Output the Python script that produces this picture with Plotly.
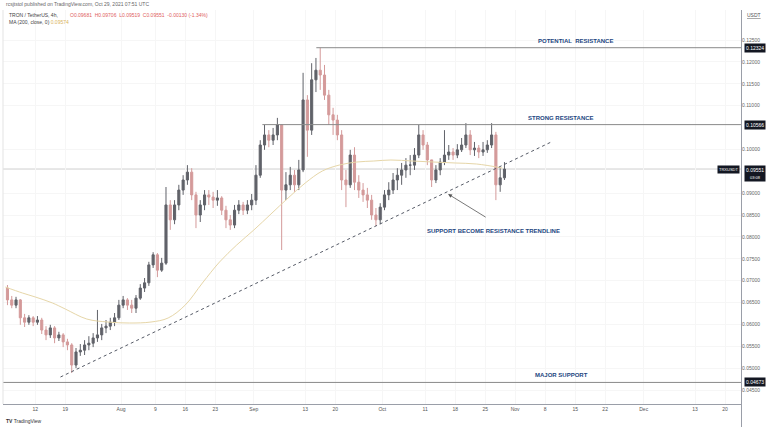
import pandas as pd
import plotly.graph_objects as go

# ---------------- data ----------------
first_day = "2021-07-05 12:00"
first_open = 0.0683
close = [
    0.0656, 0.0644, 0.0656, 0.0615, 0.0605, 0.0615, 0.0605, 0.0610, 0.0587, 0.0576,
    0.0592, 0.0569, 0.0576, 0.0560, 0.0553, 0.0507, 0.0537, 0.0541, 0.0553, 0.0557,
    0.0569, 0.0576, 0.0592, 0.0596, 0.0605, 0.0615, 0.0644, 0.0656, 0.0644, 0.0637,
    0.0660, 0.0683, 0.0695, 0.0736, 0.0759, 0.0724, 0.0740, 0.0873, 0.0839, 0.0873,
    0.0907, 0.0930, 0.0948, 0.0896, 0.0850, 0.0873, 0.0896, 0.0891, 0.0884, 0.0889,
    0.0861, 0.0839, 0.0827, 0.0861, 0.0873, 0.0861, 0.0873, 0.0884, 0.0941, 0.1010,
    0.1033, 0.1021, 0.1033, 0.1056, 0.0907, 0.0919, 0.0941, 0.0919, 0.0953, 0.1113,
    0.1044, 0.1159, 0.1181, 0.1170, 0.1124, 0.1079, 0.1067, 0.1033, 0.0930, 0.0919,
    0.0987, 0.0925, 0.0907, 0.0896, 0.0884, 0.0850, 0.0839, 0.0868, 0.0896, 0.0907,
    0.0930, 0.0941, 0.0953, 0.0964, 0.0964, 0.0987, 0.1033, 0.1010, 0.0976, 0.0930,
    0.0953, 0.0971, 0.0987, 0.0994, 0.0987, 0.0999, 0.1010, 0.1033, 0.0999, 0.1003,
    0.0994, 0.0999, 0.1010, 0.1033, 0.0919, 0.0935, 0.0955,
]
high = [
    0.0690, 0.0665, 0.0663, 0.0658, 0.0624, 0.0621, 0.0619, 0.0619, 0.0615, 0.0596,
    0.0599, 0.0596, 0.0583, 0.0580, 0.0567, 0.0557, 0.0546, 0.0555, 0.0564, 0.0573,
    0.0580, 0.0633, 0.0601, 0.0610, 0.0615, 0.0626, 0.0656, 0.0665, 0.0660, 0.0656,
    0.0667, 0.0692, 0.0706, 0.0743, 0.0765, 0.0763, 0.0752, 0.0914, 0.0884, 0.0884,
    0.0919, 0.0941, 0.0964, 0.0957, 0.0903, 0.0884, 0.0907, 0.0907, 0.0903, 0.0907,
    0.0893, 0.0871, 0.0850, 0.0873, 0.0884, 0.0880, 0.0884, 0.0898, 0.0964, 0.1021,
    0.1056, 0.1044, 0.1049, 0.1072, 0.1056, 0.0948, 0.0960, 0.0953, 0.0976, 0.1175,
    0.1124, 0.1197, 0.1209, 0.1232, 0.1193, 0.1136, 0.1095, 0.1079, 0.1044, 0.0953,
    0.0999, 0.1005, 0.0941, 0.0923, 0.0912, 0.0896, 0.0866, 0.0877, 0.0907, 0.0925,
    0.0946, 0.0957, 0.0969, 0.0980, 0.0987, 0.1003, 0.1056, 0.1044, 0.1017, 0.0976,
    0.0964, 0.0980, 0.1044, 0.1010, 0.1003, 0.1012, 0.1026, 0.1060, 0.1044, 0.1017,
    0.1010, 0.1017, 0.1021, 0.1060, 0.1040, 0.0957, 0.0971,
]
low = [
    0.0644, 0.0637, 0.0637, 0.0599, 0.0594, 0.0599, 0.0596, 0.0599, 0.0578, 0.0564,
    0.0569, 0.0557, 0.0562, 0.0548, 0.0541, 0.0489, 0.0500, 0.0528, 0.0530, 0.0541,
    0.0548, 0.0560, 0.0564, 0.0580, 0.0587, 0.0596, 0.0610, 0.0637, 0.0633, 0.0626,
    0.0626, 0.0656, 0.0674, 0.0688, 0.0729, 0.0708, 0.0720, 0.0736, 0.0816, 0.0829,
    0.0861, 0.0896, 0.0919, 0.0884, 0.0820, 0.0834, 0.0861, 0.0873, 0.0866, 0.0871,
    0.0850, 0.0820, 0.0816, 0.0820, 0.0852, 0.0850, 0.0852, 0.0861, 0.0873, 0.0935,
    0.0999, 0.1005, 0.1010, 0.1021, 0.0770, 0.0884, 0.0907, 0.0903, 0.0907, 0.0948,
    0.0983, 0.1033, 0.1131, 0.1136, 0.1113, 0.1056, 0.1033, 0.1021, 0.0907, 0.0868,
    0.0912, 0.0907, 0.0889, 0.0880, 0.0866, 0.0839, 0.0825, 0.0829, 0.0861, 0.0884,
    0.0898, 0.0907, 0.0919, 0.0935, 0.0941, 0.0953, 0.0980, 0.0999, 0.0964, 0.0914,
    0.0923, 0.0941, 0.0964, 0.0976, 0.0976, 0.0980, 0.0994, 0.1003, 0.0987, 0.0985,
    0.0980, 0.0985, 0.0992, 0.1003, 0.0884, 0.0903, 0.0930,
]

ma_dates = ["2021-07-05", "2021-07-09", "2021-07-12", "2021-07-16", "2021-07-19",
            "2021-07-24", "2021-07-29", "2021-08-03", "2021-08-08", "2021-08-12",
            "2021-08-16", "2021-08-20", "2021-08-24", "2021-08-28", "2021-09-01",
            "2021-09-05", "2021-09-09", "2021-09-13", "2021-09-17", "2021-09-21",
            "2021-09-25", "2021-09-29", "2021-10-03", "2021-10-08", "2021-10-13",
            "2021-10-18", "2021-10-23", "2021-10-29"]
ma_values = [0.06854, 0.06717, 0.06626, 0.06489, 0.06351, 0.06123, 0.06054, 0.06031,
             0.06054, 0.06146, 0.06443, 0.06946, 0.07426, 0.07814, 0.08157, 0.08523,
             0.08889, 0.09231, 0.09506, 0.09643, 0.09711, 0.09734, 0.09757, 0.09734,
             0.09711, 0.09689, 0.09666, 0.09574]

trend_dates = ["2021-07-17 21:00", "2021-11-09 10:00"]
trend_values = [0.04797, 0.10169]

potential_res = 0.12324
potential_start = "2021-09-15 14:00"
strong_res = 0.10566
strong_start = "2021-09-03 00:00"
major_support = 0.04673
last_price = 0.09551

tick_dates = ["2021-07-12", "2021-07-19", "2021-08-01", "2021-08-09", "2021-08-16",
              "2021-08-23", "2021-09-01", "2021-09-13", "2021-09-20", "2021-10-01",
              "2021-10-11", "2021-10-18", "2021-10-25", "2021-11-01", "2021-11-08",
              "2021-11-15", "2021-11-22", "2021-12-01", "2021-12-13", "2021-12-20"]
tick_text = ["12", "19", "Aug", "9", "16", "23", "Sep", "13", "20", "Oct",
             "11", "18", "25", "Nov", "8", "15", "22", "Dec", "13", "20"]
# price-axis labels (0.10500 and 0.09500 are hidden behind price tags in the reference)
y_ticks = [0.045, 0.050, 0.055, 0.060, 0.065, 0.070, 0.075, 0.080, 0.085, 0.090,
           0.100, 0.110, 0.115, 0.120, 0.125]

x_range = ["2021-07-04 11:00", "2021-12-23 17:00"]
y_range = [0.04180, 0.13186]

# ---------------- styling ----------------
W, H = 768, 427
UP = "#606269"
DN = "#d49a9a"
MA_C = "#e6d6a8"
NAVY = "#23467f"
FONT = "Liberation Sans"
TAG = "#131722"

dates = pd.date_range(first_day, periods=len(close), freq="D")
opens = [first_open] + close[:-1]

fig = go.Figure()
fig.add_trace(go.Scatter(x=ma_dates, y=ma_values, mode="lines",
                         line=dict(color=MA_C, width=1, shape="spline"),
                         hoverinfo="skip", showlegend=False))
fig.add_trace(go.Candlestick(
    x=dates, open=opens, high=high, low=low, close=close,
    increasing=dict(line=dict(color=UP, width=1), fillcolor=UP),
    decreasing=dict(line=dict(color=DN, width=1), fillcolor=DN),
    whiskerwidth=0, showlegend=False, hoverinfo="skip"))
fig.add_trace(go.Scatter(x=trend_dates, y=trend_values, mode="lines",
                         line=dict(color="#555a66", width=1, dash="3px,3px"),
                         hoverinfo="skip", showlegend=False))

shapes = [
    dict(type="line", xref="x", yref="y", x0=x_range[0], x1=x_range[1],
         y0=last_price, y1=last_price, line=dict(color="#cfcfcf", width=1), layer="below"),
    dict(type="line", xref="x", yref="y", x0=potential_start, x1=x_range[1],
         y0=potential_res, y1=potential_res, line=dict(color="#8a8a8a", width=1)),
    dict(type="line", xref="x", yref="y", x0=strong_start, x1=x_range[1],
         y0=strong_res, y1=strong_res, line=dict(color="#8a8a8a", width=1)),
    dict(type="line", xref="x", yref="y", x0=x_range[0], x1=x_range[1],
         y0=major_support, y1=major_support, line=dict(color="#8a8a8a", width=1)),
    dict(type="line", xref="paper", yref="paper", x0=741.5 / W, x1=741.5 / W,
         y0=0, y1=1 - 10 / H, line=dict(color="#9a9ea8", width=1)),
    dict(type="line", xref="paper", yref="paper", x0=3 / W, x1=3 / W,
         y0=1 - 404 / H, y1=1 - 10 / H, line=dict(color="#e3e3e3", width=1)),
]

ann = []
def text(x, y, s, size=5, color="#555", xanchor="left", yanchor="middle", **kw):
    ann.append(dict(x=x, y=y, xref="paper", yref="paper", text=s, showarrow=False,
                    xanchor=xanchor, yanchor=yanchor,
                    font=dict(family=FONT, size=size, color=color), **kw))

text(4 / W, 1 - 4 / H, "rcsjtstol published on TradingView.com, Oct 29, 2021 07:51 UTC", size=5, color="#666")
text(7 / W, 1 - 14.5 / H, "TRON / TetherUS, 4h,", size=5, color="#444")
text(68 / W, 1 - 14.5 / H, "O0.09681  H0.09706  L0.09519  C0.09551  -0.00130 (-1.34%)", size=5, color="#e06060")
text(7 / W, 1 - 22.5 / H,
     "MA (200, close, 0) <span style='color:#d9b45a'>0.09574</span>", size=5, color="#444")
text(754 / W, 1 - 15 / H, "<u>USDT</u>", size=5, color="#555", xanchor="center")
text(4 / W, 1 - 421 / H, "<b>TV</b> TradingView", size=5, color="#333")

for val, lab in [(potential_res, "0.12324"), (strong_res, "0.10566"), (major_support, "0.04673")]:
    ann.append(dict(x=755 / W, y=val, xref="paper", yref="y", text=lab, showarrow=False,
                    xanchor="center", yanchor="middle", bgcolor=TAG, borderpad=1,
                    font=dict(family=FONT, size=5, color="white")))
ann.append(dict(x=755 / W, y=last_price, xref="paper", yref="y",
                text="0.09551<br><span style='font-size:4px'>03:08</span>",
                showarrow=False, xanchor="center", yanchor="top", yshift=4,
                bgcolor=TAG, borderpad=1, font=dict(family=FONT, size=5, color="white")))
ann.append(dict(x=740 / W, y=last_price, xref="paper", yref="y", text="TRXUSDT",
                showarrow=False, xanchor="right", yanchor="middle", bgcolor=TAG, borderpad=1,
                font=dict(family=FONT, size=4, color="white")))

def label(xd, yv, s, yanchor="bottom", yshift=2):
    ann.append(dict(x=xd, y=yv, xref="x", yref="y", text="<b>" + s + "</b>", showarrow=False,
                    xanchor="center", yanchor=yanchor, yshift=yshift,
                    font=dict(family=FONT, size=6, color=NAVY)))

label("2021-11-15 00:00", potential_res, "POTENTIAL  RESISTANCE")
label("2021-11-11 17:00", strong_res, "STRONG RESISTANCE")
label("2021-11-11 20:00", major_support, "MAJOR SUPPORT")
label("2021-10-26 21:00", 0.0813, "SUPPORT BECOME RESISTANCE TRENDLINE", yanchor="middle", yshift=0)

ann.append(dict(x="2021-10-16 08:00", y=0.0898, xref="x", yref="y",
                ax="2021-10-25 11:00", ay=0.0843, axref="x", ayref="y",
                showarrow=True, arrowhead=2, arrowsize=1, arrowwidth=0.8,
                arrowcolor="#555", text=""))

fig.update_layout(
    width=W, height=H, margin=dict(l=0, r=0, t=0, b=0),
    paper_bgcolor="white", plot_bgcolor="white",
    shapes=shapes, annotations=ann, showlegend=False,
    font=dict(family=FONT, size=5, color="#555"),
    xaxis=dict(domain=[3 / W, 741 / W], range=x_range, type="date",
               tickmode="array", tickvals=tick_dates, ticktext=tick_text,
               tickfont=dict(size=5, color="#555"), ticks="", ticklen=0,
               showgrid=True, gridcolor="#f6f6f6", gridwidth=1,
               showline=True, linecolor="#9a9ea8", linewidth=1,
               rangeslider=dict(visible=False), zeroline=False, fixedrange=True),
    yaxis=dict(domain=[1 - 404 / H, 1 - 10 / H], range=y_range, side="right",
               tickmode="array", tickvals=y_ticks,
               ticktext=["%.5f" % v for v in y_ticks],
               tickfont=dict(size=5, color="#666"), ticks="",
               showgrid=True, gridcolor="#f6f6f6", gridwidth=1,
               showline=False, zeroline=False, fixedrange=True),
)

fig.write_html("out.html")
